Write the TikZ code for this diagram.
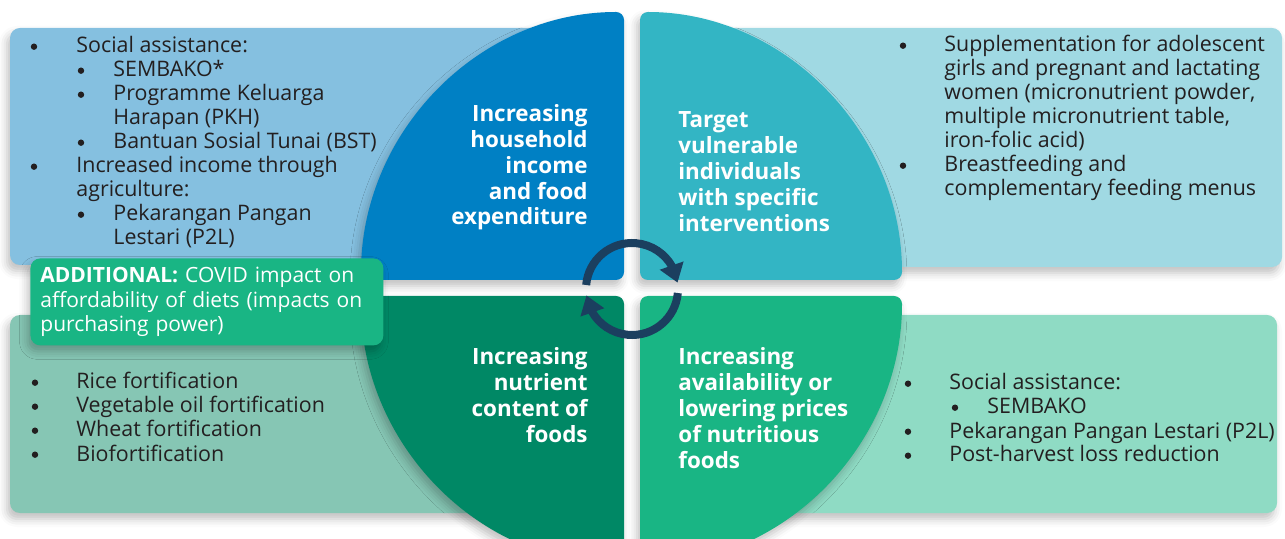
\documentclass[tikz,border=0pt]{standalone}
\usepackage{fontspec}
\setmainfont{Open Sans}
\usetikzlibrary{
    arrows.meta,
    bending,
    shadows.blur
}
\definecolor{ink}{RGB}{35,31,32}
\definecolor{navy}{RGB}{27,63,95}
\definecolor{incomedark}{RGB}{0,128,196}
\definecolor{incomelight}{RGB}{133,192,224}
\definecolor{targetdark}{RGB}{51,181,196}
\definecolor{targetlight}{RGB}{160,217,227}
\definecolor{nutrientdark}{RGB}{0,136,101}
\definecolor{nutrientlight}{RGB}{134,198,180}
\definecolor{pricedark}{RGB}{25,181,132}
\definecolor{pricelight}{RGB}{143,219,196}
\tikzset{
    pop/.style={
        blur shadow={shadow xshift=-1.5pt, shadow yshift=-3pt,
            shadow blur radius=4pt, shadow opacity=25}
    },
    panel/.style={rounded corners=5pt, pop},
    quarter/.style={rounded corners=4pt, pop},
    bodytext/.style={
        font=\fontsize{10.7}{12}\selectfont,
        text=ink,
        inner sep=0pt,
        anchor=base west
    },
    dot/.style={
        circle,
        fill=ink,
        inner sep=0pt,
        minimum size=3.2pt
    },
    heading/.style={
        font=\fontsize{11.2}{13}\selectfont\bfseries,
        text=white,
        inner sep=0pt
    },
    addbox/.style={
        rectangle,
        rounded corners=5pt,
        fill=pricedark,
        text=white,
        font=\fontsize{10.5}{12.25}\selectfont,
        align=left,
        inner xsep=5pt,
        inner ysep=0pt,
        pop
    },
    cyclearrow/.style={
        draw=navy,
        line width=4pt,
        -{Triangle[length=9pt, width=12pt]}
    }
}

\begin{document}
\begin{tikzpicture}[x=0.5pt, y=-0.5pt]

\useasboundingbox (0,0) rectangle (1285,539);

% background panels
\fill[panel, incomelight] (10,28) rectangle (580,265);
\fill[panel, targetlight] (680,28) rectangle (1282,267);
\fill[panel, nutrientlight] (10,315) rectangle (580,513);
\fill[panel, pricelight] (680,315) rectangle (1277,513);

% four quarters of the circle
\fill[quarter, incomedark] (361,280) arc[start angle=180, end angle=270, x radius=263, y radius=268] -- (624,280) -- cycle;
\fill[quarter, targetdark] (902,280) arc[start angle=0, end angle=-90, x radius=262, y radius=268] -- (640,280) -- cycle;
\fill[quarter, nutrientdark] (361,296) arc[start angle=180, end angle=90, x radius=263, y radius=268] -- (624,296) -- cycle;
\fill[quarter, pricedark] (902,296) arc[start angle=0, end angle=90, x radius=262, y radius=268] -- (640,296) -- cycle;

% additional note
\node[addbox, anchor=north west, minimum width=176.5pt, minimum height=43.5pt, text width=166.5pt] (extra) at (30,258)
    {\textbf{ADDITIONAL:} COVID impact on\\affordability of diets (impacts on\\purchasing power)};

% headings
\foreach \i/\txt in {0/Increasing, 1/household, 2/income, 3/and food, 4/expenditure} {
    \pgfmathsetmacro{\y}{122 + \i * 25.75}
    \node[heading, anchor=base east] (incomeh\i) at (588, \y) {\txt};
}
\foreach \i/\txt in {0/Target, 1/vulnerable, 2/individuals, 3/with specific, 4/interventions} {
    \pgfmathsetmacro{\y}{128 + \i * 26}
    \node[heading, anchor=base west] (targeth\i) at (678, \y) {\txt};
}
\foreach \i/\txt in {0/Increasing, 1/nutrient, 2/content of, 3/foods} {
    \pgfmathsetmacro{\y}{365 + \i * 26}
    \node[heading, anchor=base east] (nutrienth\i) at (588, \y) {\txt};
}
\foreach \i/\txt in {0/Increasing, 1/availability or, 2/lowering prices, 3/of nutritious, 4/foods} {
    \pgfmathsetmacro{\y}{365 + \i * 26}
    \node[heading, anchor=base west] (priceh\i) at (678, \y) {\txt};
}

% lists: 0 = bullet, 1 = carry on, 2 = sub bullet, 3 = sub carry on
\foreach \i/\lvl/\txt in {
    0/0/{Social assistance:},
    1/2/{SEMBAKO*},
    2/2/{Programme Keluarga},
    3/3/{Harapan (PKH)},
    4/2/{Bantuan Sosial Tunai (BST)},
    5/0/{Increased income through},
    6/1/{agriculture:},
    7/2/{Pekarangan Pangan},
    8/3/{Lestari (P2L)}
} {
    \pgfmathsetmacro{\y}{53 + \i * 24}
    \ifnum\lvl=0 \node[dot] (incomeb\i) at (34, \y - 6.3) {}; \fi
    \ifnum\lvl=2 \node[dot] (incomeb\i) at (81, \y - 6.3) {}; \fi
    \ifnum\lvl<2 \def\tx{76}\else\def\tx{113}\fi
    \node[bodytext] (incomel\i) at (\tx, \y) {\txt};
}
\foreach \i/\lvl/\txt in {
    0/0/{Supplementation for adolescent},
    1/1/{girls and pregnant and lactating},
    2/1/{women (micronutrient powder,},
    3/1/{multiple micronutrient table,},
    4/1/{iron-folic acid)},
    5/0/{Breastfeeding and},
    6/1/{complementary feeding menus}
} {
    \pgfmathsetmacro{\y}{52 + \i * 24}
    \ifnum\lvl=0 \node[dot] (targetb\i) at (903, \y - 6.3) {}; \fi
    \node[bodytext] (targetl\i) at (944, \y) {\txt};
}
\foreach \i/\txt in {0/Rice fortification, 1/Vegetable oil fortification, 2/Wheat fortification, 3/Biofortification} {
    \pgfmathsetmacro{\y}{389 + \i * 24}
    \node[dot] (nutrientb\i) at (35, \y - 6.3) {};
    \node[bodytext] (nutrientl\i) at (76, \y) {\txt};
}
\foreach \i/\lvl/\txt in {
    0/0/{Social assistance:},
    1/2/{SEMBAKO},
    2/0/{Pekarangan Pangan Lestari (P2L)},
    3/0/{Post-harvest loss reduction}
} {
    \pgfmathsetmacro{\y}{390 + \i * 24}
    \ifnum\lvl=0
        \node[dot] (priceb\i) at (908, \y - 6.3) {};
        \node[bodytext] (pricel\i) at (949, \y) {\txt};
    \else
        \node[dot] (priceb\i) at (955, \y - 6.3) {};
        \node[bodytext] (pricel\i) at (987, \y) {\txt};
    \fi
}

% cycle arrows in the middle
\coordinate (hub) at (632,289);
\draw[cyclearrow] ([shift={(-175:46)}]hub) arc[start angle=-175, end angle=-8, radius=46];
\draw[cyclearrow] ([shift={(-355:46)}]hub) arc[start angle=-355, end angle=-188, radius=46];

\end{tikzpicture}
\end{document}
